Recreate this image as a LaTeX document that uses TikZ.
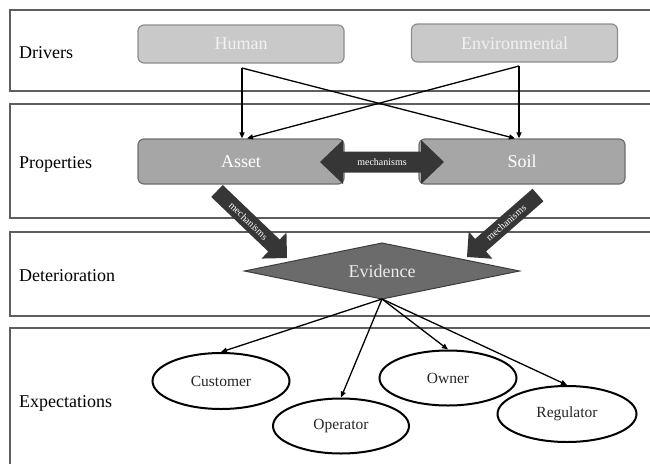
\documentclass[tikz,border=0pt]{standalone}
\usepackage{fontspec}
\setmainfont{Liberation Serif}
\usetikzlibrary{shapes.geometric,arrows.meta,calc}
\definecolor{bandc}{HTML}{5E5E5E}
\definecolor{drvf}{HTML}{C9C9C9}
\definecolor{drvb}{HTML}{8E8E8E}
\definecolor{prpf}{HTML}{A6A6A6}
\definecolor{prpb}{HTML}{6E6E6E}
\definecolor{evf}{HTML}{6B6B6B}
\definecolor{evb}{HTML}{3C3C3C}
\definecolor{fatc}{HTML}{363636}
\newcommand{\myfatarrow}[5]{%
  \coordinate (fab) at ($(#2)!#5!(#1)$);
  \fill[fatc] ($(#1)!#3!90:(#2)$) -- ($(fab)!#3!-90:(#1)$) -- ($(fab)!#4!-90:(#1)$) -- (#2)
    -- ($(fab)!#4!90:(#1)$) -- ($(fab)!#3!90:(#1)$) -- ($(#1)!#3!-90:(#2)$) -- cycle;
}
\begin{document}
\begin{tikzpicture}[x=1pt,y=-1pt,
  band/.style={draw=bandc, line width=1.3pt},
  lbl/.style={anchor=base west, inner sep=0, font=\rmfamily\fontsize{18}{20}\selectfont},
  drv/.style={draw=drvb, fill=drvf, rounded corners=6pt, line width=1.2pt,
    minimum width=206pt, minimum height=38pt, inner sep=0, text=white!95!black,
    font=\rmfamily\fontsize{18}{20}\selectfont},
  prp/.style={draw=prpb, fill=prpf, rounded corners=6pt, line width=1.2pt,
    minimum width=206pt, minimum height=45pt, inner sep=0, text=white,
    font=\rmfamily\fontsize{18}{20}\selectfont},
  evid/.style={diamond, draw=evb, fill=evf, line width=1pt, aspect=4.9,
    minimum width=275pt, minimum height=56pt, inner sep=0, outer sep=0,
    text=white!92!black, font=\rmfamily\fontsize{18}{20}\selectfont},
  expn/.style={ellipse, draw=black, line width=2pt, inner sep=0,
    text=black!85, font=\rmfamily\fontsize{15.5}{17}\selectfont},
  conn/.style={draw=black, line width=1.3pt, -{Triangle[length=6pt,width=5pt]}},
  mech/.style={text=white, inner sep=0, font=\rmfamily\fontsize{10}{11}\selectfont}]
\clip (0,0) rectangle (650,463);
\fill[white] (0,0) rectangle (650,463);
% bands
\draw[band] (10,10) rectangle (662,91);
\draw[band] (10,104) rectangle (662,218);
\draw[band] (10,232) rectangle (662,316);
\draw[band] (10,328) rectangle (662,475);
\node[lbl] (ldrv) at (19,58) {Drivers};
\node[lbl] (lprp) at (19,168) {Properties};
\node[lbl] (ldet) at (19,281) {Deterioration};
\node[lbl] (lexp) at (19,407) {Expectations};
% boxes
\node[drv] (human) at (241,44) {Human};
\node[drv] (env) at (514.5,43) {Environmental};
\node[prp] (asset) at (241,161.5) {Asset};
\node[prp] (soil) at (522,161.5) {Soil};
\node[evid] (ev) at (382,271) {Evidence};
\node[expn, minimum width=137pt, minimum height=56pt] (cust) at (221,381) {Customer};
\node[expn, minimum width=136pt, minimum height=55pt] (oper) at (341,426) {Operator};
\node[expn, minimum width=137pt, minimum height=55pt] (own) at (448,378) {Owner};
\node[expn, minimum width=139pt, minimum height=56pt] (reg) at (567,414) {Regulator};
% driver arrows
\coordinate (hs) at (242,68);
\coordinate (es) at (519,66);
\draw[conn] (hs) -- (hs |- asset.north);
\draw[conn] (hs) -- ([xshift=-7pt]soil.north);
\draw[conn] (es) -- (es |- soil.north);
\draw[conn] (es) -- ([xshift=6pt]asset.north);
% mechanisms double arrow
\coordinate (mal) at (320,162);
\coordinate (mar) at (444,162);
\fill[fatc] (mal) -- ($(mal)+(23,-22)$) -- ($(mal)+(23,-10.5)$) -- ($(mar)+(-23,-10.5)$)
  -- ($(mar)+(-23,-22)$) -- (mar) -- ($(mar)+(-23,22)$) -- ($(mar)+(-23,10.5)$)
  -- ($(mal)+(23,10.5)$) -- ($(mal)+(23,22)$) -- cycle;
\node[mech] (mtxt) at ($(mal)!0.5!(mar)$) {mechanisms};
% diagonal mechanisms arrows
\coordinate (lat) at (217,191);
\coordinate (lah) at (287,258);
\coordinate (rat) at (538,195);
\coordinate (rah) at (467,257);
\myfatarrow{lat}{lah}{8.3pt}{18pt}{18pt}
\node[mech, rotate=-43.7] (ltxt) at ($(lat)!0.45!(lah)$) {mechanisms};
\myfatarrow{rat}{rah}{8.3pt}{18pt}{18pt}
\node[mech, rotate=41.1] (rtxt) at ($(rat)!0.45!(rah)$) {mechanisms};
% evidence arrows
\draw[conn] (ev.south) -- (cust.north);
\draw[conn] (ev.south) -- (oper.north);
\draw[conn] (ev.south) -- (own.north);
\draw[conn] (ev.south) -- (reg.north);
\end{tikzpicture}
\end{document}
